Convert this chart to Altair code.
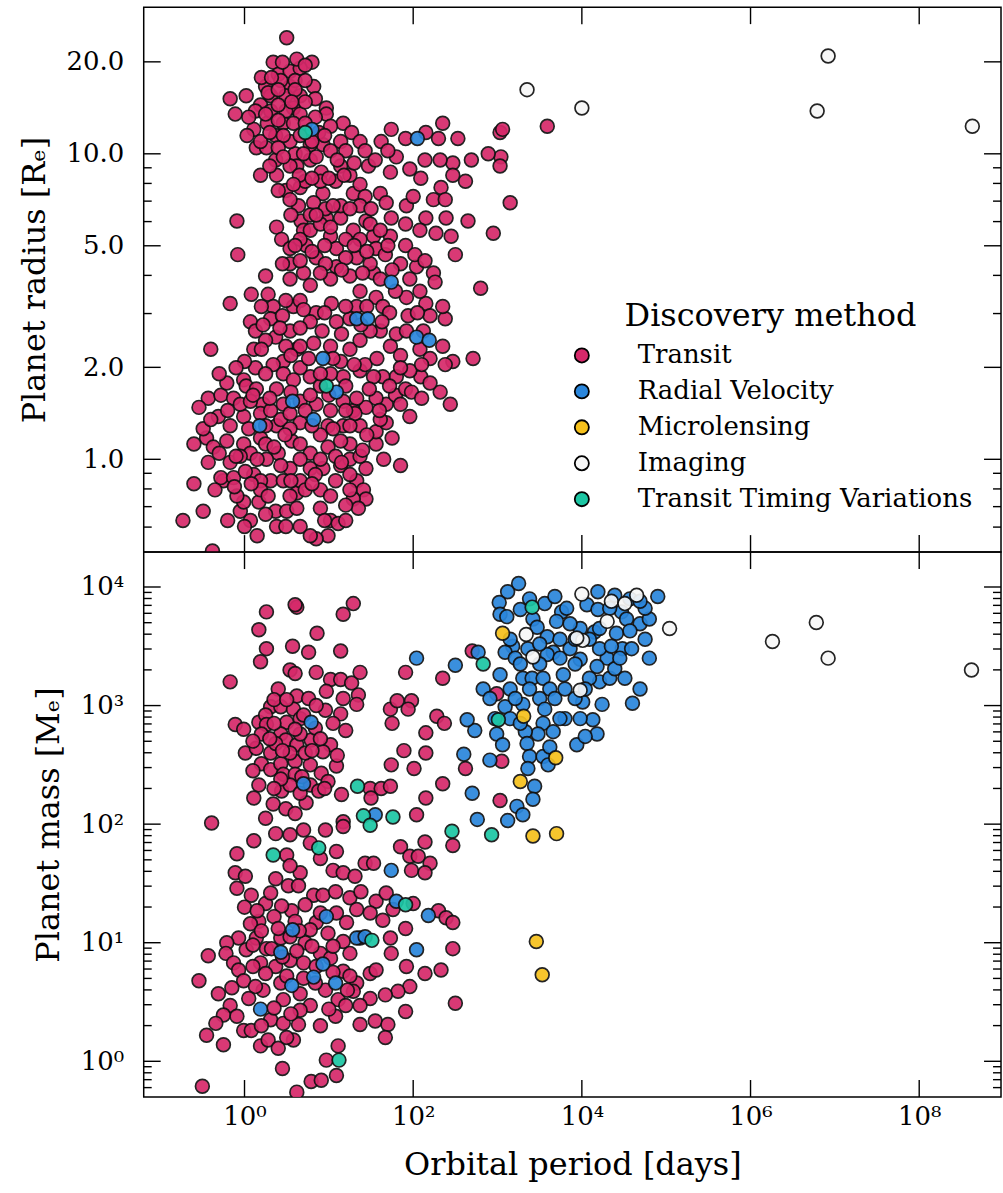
import altair as alt
import pandas as pd

# Discovery methods, legend order and colours
METHODS = ["Transit", "Radial Velocity", "Microlensing", "Imaging", "Transit Timing Variations"]
COLORS = ["#d6296a", "#2a86dc", "#f6c11c", "#f7f7f7", "#1cc6a3"]

# ---------------------------------------------------------------
# Values, stored as (log10 period [d], log10 radius [R_E])
# ---------------------------------------------------------------
top_transit = [
    (0.50, 1.38), (0.34, 1.30), (0.80, 1.30), (0.40, 1.26), (0.54, 1.27), (0.66, 1.28), (0.25, 1.22), (0.54, 1.22), (0.82, 1.22), (-0.17, 1.18),
    (0.02, 1.19), (-0.11, 1.13), (0.19, 1.16), (0.58, 1.15), (0.97, 1.15), (0.97, 1.13), (0.27, 1.10), (0.11, 1.08), (0.46, 1.10), (1.17, 1.10),
    (1.27, 1.07), (0.14, 1.02), (0.26, 1.02), (0.60, 1.00), (0.93, 1.03), (1.14, 1.04), (1.37, 1.04), (1.62, 1.04), (1.74, 1.08), (1.91, 1.05),
    (2.15, 1.07), (2.30, 1.05), (2.35, 1.10), (2.53, 1.05), (3.03, 1.07), (3.04, 0.99), (2.89, 1.00), (2.69, 0.98), (2.47, 0.97), (2.32, 0.98),
    (2.14, 0.98), (1.96, 0.95), (1.73, 0.94), (1.80, 0.99), (1.70, 1.01), (1.47, 0.96), (1.14, 0.96), (0.91, 0.94), (0.62, 0.96), (0.38, 0.93),
    (0.19, 0.93), (0.49, 0.88), (0.66, 0.89), (0.93, 0.87), (1.29, 0.87), (1.61, 0.87), (1.37, 0.90), (2.09, 0.92), (2.33, 0.89), (2.47, 0.93),
    (2.62, 0.91), (3.03, 0.96), (3.15, 0.84), (2.24, 0.85), (2.38, 0.85), (1.92, 0.83), (2.00, 0.86), (1.68, 0.84), (1.43, 0.86), (0.82, 0.84),
    (0.64, 0.83), (2.95, 0.74), (2.65, 0.78), (2.39, 0.79), (2.15, 0.79), (2.27, 0.74), (2.45, 0.73), (2.50, 0.67), (1.74, 0.79), (1.73, 0.73),
    (1.53, 0.73), (1.44, 0.78), (1.29, 0.75), (1.14, 0.79), (0.97, 0.79), (0.67, 0.78), (0.70, 0.75), (0.38, 0.76), (0.44, 0.72), (-0.09, 0.78),
    (-0.08, 0.67), (0.54, 0.69), (0.73, 0.70), (0.85, 0.66), (1.02, 0.73), (1.09, 0.69), (1.33, 0.66), (1.56, 0.69), (1.85, 0.64), (2.04, 0.63),
    (2.24, 0.61), (0.25, 0.60), (0.54, 0.64), (0.70, 0.61), (1.09, 0.63), (1.53, 0.61),
    (2.80, 0.56), (2.26, 0.58), (-0.17, 0.51), (0.08, 0.54), (0.28, 0.54), (0.07, 0.45), (0.34, 0.50), (0.58, 0.50), (0.85, 0.48), (1.03, 0.51),
    (1.33, 0.50), (1.56, 0.53), (1.92, 0.53), (2.15, 0.51), (2.38, 0.46), (2.35, 0.50), (2.20, 0.47), (1.94, 0.47), (1.64, 0.50), (1.09, 0.45),
    (0.78, 0.45), (0.54, 0.42), (0.31, 0.46), (0.37, 0.40), (1.61, 0.42), (1.80, 0.41), (2.35, 0.37), (2.71, 0.33), (2.47, 0.32), (2.38, 0.31),
    (2.09, 0.27), (1.96, 0.29), (1.80, 0.27), (1.64, 0.27), (1.53, 0.27), (1.37, 0.29), (1.17, 0.27), (0.82, 0.38), (0.62, 0.36), (0.46, 0.32),
    (0.34, 0.31), (0.11, 0.36), (-0.40, 0.36), (0.13, 0.30), (0.46, 0.28), (0.78, 0.27), (0.66, 0.30), (2.32, 0.22), (2.44, 0.18), (1.96, 0.14),
    (1.68, 0.18), (1.56, 0.20), (1.44, 0.17), (1.37, 0.11), (1.56, 0.05), (1.44, -0.03), (1.33, -0.07), (1.41, -0.10), (1.44, -0.13), (1.29, -0.13),
    (1.35, -0.16), (1.85, -0.02), (1.14, -0.02), (1.08, -0.07), (0.90, -0.10), (0.90, -0.16), (1.02, -0.20), (1.11, -0.21), (0.99, -0.25), (0.85, -0.26),
    (0.66, -0.22), (0.38, -0.22), (0.37, -0.17), (0.50, -0.17), (0.62, -0.11), (0.31, -0.07), (0.17, -0.14), (-0.05, -0.17), (-0.01, -0.14), (-0.09, -0.12),
    (-0.25, -0.07), (-0.28, -0.06), (-0.13, -0.06), (-0.43, -0.01), (-0.49, -0.17), (-0.73, -0.20), (-0.38, -0.30), (0.11, -0.05), (0.40, 0.02), (0.56, 0.06),
    (0.78, 0.02), (0.99, 0.04), (1.25, 0.05), (1.56, 0.09), (1.68, 0.12), (1.17, 0.11), (0.99, 0.11), (0.38, 0.11), (0.66, 0.12), (-0.01, 0.14),
    (-0.17, 0.11), (-0.31, 0.14), (-0.45, 0.07), (-0.49, 0.10), (-0.43, 0.20), (-0.54, 0.17), (-0.28, 0.21), (-0.21, 0.25), (-0.01, 0.26), (-0.13, 0.20),
    (0.02, 0.24), (0.14, 0.23), (0.22, 0.18), (0.38, 0.23), (0.46, 0.18), (0.85, 0.18), (1.17, 0.19), (1.29, 0.16), (-0.37, 0.04), (-0.21, 0.06),
    (-0.01, 0.05), (0.19, 0.07), (-0.17, -0.01), (0.07, 0.02), (0.26, 0.00), (0.54, -0.03), (0.78, -0.03), (0.93, -0.03), (1.25, 0.00), (0.19, -0.07),
    (0.46, -0.07), (0.66, -0.07),
    (0.43, 0.13), (0.54, 0.15), (0.66, 0.19), (0.90, 0.24), (1.02, 0.28), (1.14, 0.32), (1.25, 0.36), (1.37, 0.39), (1.49, 0.42), (1.73, 0.37),
    (1.85, 0.34), (1.25, 0.46), (1.02, 0.37), (0.66, 0.37), (0.49, 0.37), (0.25, 0.39), (0.13, 0.42), (-0.05, 0.18), (0.07, 0.19), (0.19, 0.15),
    (0.31, 0.16), (0.54, 0.10), (0.90, 0.08), (1.14, 0.06), (1.37, 0.01), (1.61, 0.13), (1.79, 0.21), (1.91, 0.23), (2.08, 0.36), (2.20, 0.33),
    (1.43, 0.31), (0.78, 0.21), (0.66, 0.00), (0.43, -0.02), (0.25, 0.05), (0.01, -0.04), (-0.05, 0.01), (1.31, 0.15), (1.20, 0.16), (1.02, 0.16),
    (1.08, 0.01), (1.25, -0.05), (0.84, -0.05), (0.72, -0.10), (0.54, -0.12), (0.49, -0.22), (0.78, -0.25), (1.20, -0.20), (0.19, -0.10), (0.07, -0.20),
    (0.43, 1.24), (0.60, 1.24), (0.72, 1.24), (0.31, 1.19), (0.49, 1.19), (0.66, 1.19), (0.84, 1.18), (0.13, 1.14), (0.31, 1.14), (0.49, 1.14),
    (0.66, 1.13), (0.84, 1.12), (1.02, 1.09), (0.19, 1.04), (0.37, 1.06), (0.54, 1.04), (0.78, 1.03), (1.02, 1.01), (1.20, 1.01), (0.37, 0.98),
    (0.54, 0.96), (0.78, 0.98), (0.90, 0.91), (0.72, 0.91), (1.08, 0.91), (1.25, 0.93), (1.43, 1.01), (1.55, 0.98), (1.37, 0.83), (1.14, 0.83),
    (0.96, 0.82), (0.78, 0.80), (0.54, 0.85),
    (0.66, 0.72), (0.78, 0.75), (0.90, 0.77), (1.02, 0.76), (1.20, 0.72), (1.37, 0.72), (1.49, 0.77), (1.61, 0.75), (1.20, 0.66), (0.96, 0.64),
    (0.66, 0.65), (0.54, 0.59), (0.78, 0.57), (1.02, 0.59), (1.25, 0.60), (1.37, 0.55), (1.61, 0.59), (1.79, 0.55), (1.96, 0.59), (2.08, 0.55),
    (0.66, 0.52), (0.49, 0.52), (1.49, 0.64), (1.67, 0.67), (1.91, 0.70), (2.02, 0.67), (2.14, 0.65), (2.08, 0.75), (1.91, 0.77),
    (3.59, 1.09), (3.06, 1.08),
    # denser parts of the hot-Jupiter clump
    (0.20, 1.25), (0.32, 1.25), (0.45, 1.30), (0.62, 1.31), (0.72, 1.29), (0.28, 1.20), (0.40, 1.21), (0.60, 1.21), (0.72, 1.17), (0.40, 1.16),
    (0.56, 1.17), (0.25, 1.13), (0.40, 1.11), (0.58, 1.10), (0.72, 1.10), (0.88, 1.07), (0.30, 1.07), (0.46, 1.06), (0.66, 1.06), (0.80, 1.04),
    (0.95, 1.06), (0.05, 1.12), (0.03, 1.06), (0.40, 1.02), (0.70, 1.00), (0.85, 0.99), (1.10, 0.98), (0.46, 0.99), (0.30, 0.96), (0.65, 0.93),
    (0.80, 0.92), (1.00, 0.92), (1.18, 0.93), (1.30, 0.97), (0.58, 0.90), (0.40, 0.88),
    (0.55, 0.80), (0.85, 0.80), (1.05, 0.83), (1.25, 0.82), (1.50, 0.82), (1.30, 0.70), (1.45, 0.68), (0.80, 0.68), (0.60, 0.70), (0.95, 0.70),
    (1.70, 0.70), (1.15, 0.62), (0.90, 0.61), (0.45, 0.64), (1.40, 0.61), (1.75, 0.62),
    # denser parts of the small-planet clump
    (0.20, 0.50), (0.45, 0.47), (0.70, 0.49), (0.95, 0.48), (1.20, 0.50), (1.45, 0.50), (1.72, 0.48), (2.05, 0.48), (0.22, 0.44), (0.42, 0.43),
    (0.66, 0.43), (0.92, 0.42), (1.15, 0.41), (1.38, 0.44), (1.63, 0.45), (1.92, 0.42), (2.12, 0.42),
    (0.20, 0.36), (0.55, 0.34), (0.76, 0.33), (1.05, 0.33), (1.30, 0.31), (1.57, 0.33), (1.85, 0.30), (2.10, 0.31), (0.00, 0.32), (0.25, 0.28),
    (0.58, 0.26), (0.90, 0.28), (1.20, 0.24), (1.48, 0.23), (1.72, 0.24), (1.98, 0.22), (2.20, 0.25),
    (-0.30, 0.28), (-0.10, 0.30), (0.10, 0.21), (0.30, 0.20), (0.55, 0.22), (0.72, 0.16), (1.00, 0.21), (1.33, 0.20), (1.60, 0.16), (1.85, 0.18),
    (2.10, 0.20), (-0.40, 0.13), (-0.20, 0.16), (0.05, 0.10), (0.25, 0.11), (0.48, 0.08), (0.80, 0.11), (1.05, 0.10), (1.25, 0.11), (1.45, 0.08),
    (1.75, 0.07), (-0.60, 0.05), (-0.30, 0.02), (-0.10, 0.01), (0.15, 0.00), (0.35, 0.04), (0.66, 0.05), (0.90, 0.00), (1.15, -0.01), (1.40, 0.03),
    (1.65, 0.00), (-0.60, -0.08), (-0.35, -0.10), (-0.12, -0.09), (0.08, -0.08), (0.28, -0.12), (0.55, -0.07), (0.80, -0.08), (1.02, -0.12), (1.25, -0.10),
    (-0.20, -0.20), (0.00, -0.22), (0.25, -0.18), (0.62, -0.16), (0.95, -0.20), (1.20, -0.15), (0.15, -0.25),
]
top_rv = [
    (0.80, 1.08), (2.05, 1.05), (1.74, 0.58), (1.33, 0.46), (1.46, 0.46), (2.04, 0.40), (2.19, 0.39), (0.93, 0.33), (1.09, 0.22), (0.57, 0.19),
    (0.82, 0.13), (0.18, 0.11),
]
top_micro = []
top_imaging = [(3.35, 1.21), (4.00, 1.15), (6.92, 1.32), (6.79, 1.14), (8.63, 1.09)]
top_ttv = [(0.72, 1.07), (0.97, 0.24)]

# ---------------------------------------------------------------
# (log10 period [d], log10 mass [M_E])
# ---------------------------------------------------------------
bot_transit = [
    (0.26, 3.79), (0.62, 3.83), (0.60, 3.85), (1.29, 3.86), (1.17, 3.77), (0.17, 3.64), (0.86, 3.61), (0.26, 3.48), (0.57, 3.50), (0.76, 3.45),
    (1.14, 3.46), (0.19, 3.37), (-0.17, 3.20), (0.54, 3.30), (0.60, 3.27), (0.85, 3.28), (1.02, 3.22), (1.14, 3.22), (1.27, 3.19), (1.37, 3.28),
    (0.40, 3.14), (0.62, 3.08), (0.76, 3.06), (0.97, 3.12), (1.17, 3.06), (1.35, 3.09), (1.33, 3.01), (1.91, 3.28), (2.35, 3.23), (0.31, 2.99),
    (0.43, 2.99), (0.58, 2.97), (0.96, 2.96), (1.14, 2.93), (1.20, 2.79), (1.73, 2.97), (1.81, 3.04), (1.98, 3.04), (1.94, 2.97), (1.75, 2.85),
    (2.28, 2.91), (2.37, 2.85), (2.15, 2.77), (-0.11, 2.84), (-0.01, 2.80), (0.17, 2.86), (0.25, 2.92), (0.26, 2.84), (0.50, 2.86), (0.43, 2.76),
    (0.20, 2.76), (0.79, 2.71), (1.02, 2.67), (0.49, 2.71), (0.01, 2.60), (0.14, 2.64), (0.31, 2.60), (0.62, 2.67), (0.93, 2.61), (1.89, 2.62),
    (2.15, 2.60), (1.74, 2.50), (2.01, 2.47), (2.62, 2.47), (0.20, 2.51), (0.31, 2.46), (0.43, 2.51), (0.60, 2.53), (0.78, 2.50), (0.91, 2.43),
    (1.09, 2.49), (0.46, 2.42), (0.60, 2.42), (0.17, 2.33), (0.11, 2.22), (0.34, 2.17), (0.44, 2.28), (0.54, 2.33), (0.78, 2.33), (0.88, 2.28),
    (0.99, 2.36), (0.49, 2.13), (0.60, 2.09), (0.73, 2.18), (1.49, 2.30), (1.62, 2.30), (1.73, 2.32), (1.50, 2.22), (2.04, 2.08), (2.15, 2.22),
    (2.35, 2.34), (-0.39, 2.01), (1.17, 2.02), (0.11, 1.86), (-0.09, 1.75), (-0.11, 1.59), (0.01, 1.56), (-0.09, 1.46), (0.08, 1.40), (0.25, 1.33),
    (0.17, 1.18), (0.54, 1.91), (0.70, 1.95), (0.96, 1.95), (1.17, 1.98), (1.09, 1.77), (0.50, 1.74), (0.66, 1.59), (0.54, 1.65), (1.05, 1.61),
    (1.17, 1.59), (1.31, 1.56), (1.43, 1.67), (1.53, 1.67), (1.85, 1.81), (2.14, 1.85), (2.47, 1.82), (1.96, 1.73), (2.06, 1.73), (2.20, 1.67),
    (1.98, 1.61), (2.14, 1.59), (0.52, 1.48), (0.64, 1.48), (0.82, 1.40), (0.93, 1.40), (1.08, 1.43), (1.25, 1.38), (1.38, 1.43), (1.56, 1.35),
    (1.68, 1.42), (2.00, 1.33), (2.30, 1.27), (2.39, 1.21), (2.47, 1.17), (0.72, 1.32), (0.56, 1.27), (0.44, 1.31), (0.85, 1.17), (1.09, 1.25),
    (1.21, 1.17), (1.33, 1.28), (1.49, 1.25), (1.64, 1.19), (1.76, 1.28), (1.91, 1.12), (1.73, 1.04), (0.43, 1.04), (0.54, 1.05), (0.78, 1.11),
    (0.99, 1.08), (1.17, 1.01), (0.14, 1.04), (0.26, 0.95), (0.02, 0.94), (-0.07, 1.04), (-0.21, 1.00), (-0.22, 0.91), (-0.43, 0.89), (-0.13, 0.83),
    (-0.07, 0.77), (-0.01, 0.68), (0.37, 0.80), (0.54, 0.85), (0.70, 0.83), (1.17, 0.76), (1.33, 0.66), (1.49, 0.74), (1.56, 0.77), (1.74, 0.91),
    (1.92, 0.80), (2.14, 0.74), (2.33, 0.77), (2.47, 0.95), (2.50, 0.49), (1.96, 0.63), (1.82, 0.59), (1.91, 0.42), (1.67, 0.56), (1.49, 0.53),
    (1.37, 0.47), (1.29, 0.59), (1.11, 0.52), (0.96, 0.60), (0.78, 0.47), (0.66, 0.57), (0.46, 0.52), (0.22, 0.60), (0.13, 0.63), (0.05, 0.53),
    (0.31, 0.35), (0.46, 0.32), (0.64, 0.31), (0.90, 0.30), (1.08, 0.38), (1.20, 0.47), (1.37, 0.31), (1.55, 0.34), (1.70, 0.31), (1.67, 0.20),
    (-0.31, 0.57), (-0.17, 0.47), (-0.25, 0.39), (-0.34, 0.32), (-0.09, 0.38), (-0.01, 0.26), (0.08, 0.26), (-0.45, 0.22), (-0.25, 0.14), (0.19, 0.13),
    (0.28, 0.18), (0.40, 0.11), (0.58, 0.18), (0.50, 0.20), (-0.54, 0.68), (1.11, 0.13), (0.97, 0.01), (0.45, -0.06), (0.79, -0.17), (0.91, -0.16),
    (1.09, -0.12), (-0.50, -0.21), (0.62, -0.26), (2.70, 3.46), (2.99, 3.10), (3.05, 2.53), (3.03, 2.20),
    (0.66, 2.89), (0.84, 2.81), (0.66, 2.76), (0.37, 2.68), (0.54, 2.60), (0.72, 2.60), (0.43, 2.38), (0.66, 2.26), (0.25, 2.05), (0.37, 1.92),
    (0.78, 1.84), (0.90, 1.71), (0.37, 1.54), (0.31, 1.42), (0.90, 1.25), (0.72, 1.00), (0.90, 0.91), (0.19, 0.83), (0.07, 1.16), (1.02, 0.87),
    (0.84, 0.66), (0.43, 0.66), (1.25, 0.91), (1.37, 1.04), (0.66, 0.43),
    (0.00, 1.30), (0.15, 1.27), (0.35, 1.22), (0.60, 1.18), (0.20, 1.10), (0.40, 1.12), (0.65, 1.10), (0.10, 0.98), (0.32, 0.95), (0.62, 0.93),
    (0.80, 0.97), (1.05, 0.97), (0.45, 0.88), (0.85, 0.80), (1.05, 0.75), (0.25, 0.74), (0.50, 0.72), (0.70, 0.70), (0.10, 0.80), (1.25, 0.72),
    (0.35, 0.45), (0.55, 0.40), (1.00, 0.44), (0.20, 0.30), (1.22, 0.60), (-0.15, 0.62),
    (0.35, 3.05), (0.50, 3.05), (0.70, 2.92), (0.85, 3.00), (1.05, 2.85), (0.35, 2.85), (0.60, 2.80), (0.90, 2.72), (0.10, 2.70), (0.30, 2.72),
    (0.45, 2.62), (0.80, 2.62), (1.10, 2.58), (0.10, 2.45), (0.35, 2.30), (0.68, 2.40), (0.95, 2.30), (1.15, 2.25),
]
bot_rv = [
    (3.25, 4.03), (3.12, 3.96), (3.02, 3.87), (3.03, 3.77), (3.11, 3.75), (3.27, 3.81), (3.42, 3.73), (3.47, 3.66), (3.59, 3.58), (3.76, 3.79),
    (3.82, 3.82), (3.70, 3.71), (4.19, 3.96), (4.06, 3.85), (4.19, 3.81), (4.47, 3.79), (4.53, 3.73), (4.41, 3.61), (4.15, 3.62), (4.48, 3.48),
    (4.59, 3.48), (4.30, 3.40), (4.18, 3.33), (4.21, 3.20), (3.98, 3.39), (4.01, 3.03), (4.24, 3.01), (4.60, 3.02), (4.13, 2.88), (4.18, 2.76),
    (3.94, 2.67), (4.04, 2.74), (3.78, 3.26), (3.66, 3.45), (3.59, 3.43), (3.36, 3.48), (3.18, 3.50), (3.09, 3.45), (3.03, 3.26), (2.83, 3.14),
    (3.15, 3.14), (3.30, 3.23), (3.41, 3.23), (3.54, 3.23), (3.62, 3.14), (3.50, 3.06), (3.30, 3.01), (3.09, 2.99), (3.56, 2.97), (3.54, 2.85),
    (3.66, 2.78), (3.48, 2.76), (3.33, 2.78), (2.99, 2.76), (3.06, 2.67), (3.35, 2.68), (3.38, 2.57), (3.54, 2.57), (3.60, 2.50), (3.36, 2.47),
    (3.44, 2.32), (3.42, 2.21), (3.23, 2.15), (3.30, 2.08), (3.12, 2.03), (2.76, 2.04), (2.70, 2.26), (2.91, 2.54), (2.60, 2.59), (2.73, 2.79),
    (2.64, 2.88), (2.50, 3.34), (2.77, 3.45), (2.04, 3.40), (4.90, 3.92), (0.70, 2.34), (0.79, 2.86), (1.55, 2.08), (1.74, 1.61), (1.80, 1.35),
    (2.18, 1.23), (2.04, 0.94), (1.33, 1.04), (1.43, 1.05), (0.97, 1.22), (0.57, 1.11), (0.43, 0.92), (0.93, 0.82), (0.82, 0.71), (1.08, 0.66),
    (0.56, 0.64), (0.19, 0.44),
    (3.15, 3.56), (3.21, 3.40), (3.27, 3.35), (3.50, 3.35), (3.74, 3.40), (3.86, 3.48), (3.92, 3.35), (4.09, 3.23), (4.33, 3.23), (4.39, 3.31),
    (4.45, 3.40), (4.21, 3.48), (4.09, 3.56), (3.98, 3.65), (3.86, 3.69), (3.74, 3.56), (3.50, 3.52), (3.38, 3.14), (3.21, 3.06), (3.68, 3.06),
    (3.80, 3.14), (3.92, 3.06), (3.80, 2.89), (3.98, 2.89), (4.51, 3.23), (4.69, 3.14), (4.80, 3.40), (4.75, 3.56), (4.69, 3.69), (4.80, 3.73),
    (4.75, 3.82), (4.33, 3.82), (4.21, 3.65), (4.35, 3.50), (3.74, 2.89), (3.62, 2.65), (3.15, 2.89), (3.27, 2.85), (2.91, 3.06), (2.97, 2.89),
    (3.38, 3.90), (3.56, 3.86), (3.68, 3.92), (4.39, 3.93), (4.57, 3.90), (4.69, 3.88), (4.57, 3.63), (3.92, 3.56), (4.04, 3.14),
]
bot_micro = [(3.06, 3.61), (3.31, 2.91), (3.69, 2.56), (3.27, 2.36), (3.42, 1.90), (3.70, 1.92), (3.46, 1.01), (3.53, 0.73)]
bot_imaging = [
    (3.34, 3.60), (4.00, 3.94), (4.35, 3.88), (4.51, 3.86), (4.65, 3.93), (5.04, 3.65), (4.30, 3.71), (4.01, 3.55), (3.94, 3.57), (3.42, 3.41),
    (3.98, 3.13), (6.26, 3.54), (6.78, 3.70), (6.92, 3.40), (8.62, 3.30),
]
bot_ttv = [
    (3.41, 3.83), (2.83, 3.35), (3.01, 2.88), (1.34, 2.32), (1.41, 2.07), (1.49, 1.99), (1.76, 2.06), (2.46, 1.94), (2.93, 1.91), (0.34, 1.74),
    (0.88, 1.80), (1.91, 1.32), (1.51, 1.02), (1.12, 0.01),
]

# Axis ticks / labels
X_MAJOR = [1, 1e2, 1e4, 1e6, 1e8]
R_MAJOR = [1, 2, 5, 10, 20]
R_MINOR = [0.6, 0.7, 0.8, 0.9, 3, 4, 6, 7, 8, 9]
M_MAJOR = [1, 10, 100, 1000, 10000]
M_MINOR = [0.6, 0.7, 0.8, 0.9] + [k * d for d in (1, 10, 100, 1000) for k in (2, 3, 4, 5, 6, 7, 8, 9)]

X_DOMAIN = [0.0638, 9.33e8]
R_DOMAIN = [0.497, 30.2]
M_DOMAIN = [0.5, 19700]

W, H = 859, 546
FONT = "DejaVu Serif"
MAJ, MIN = 17, 8


def build(groups, yname):
    rows = []
    for m, pts in zip(METHODS, groups):
        for lp, ly in pts:
            rows.append({"method": m, "period": 10 ** lp, yname: 10 ** ly})
    return pd.DataFrame(rows)


top_df = build([top_transit, top_rv, top_micro, top_imaging, top_ttv], "radius")
bot_df = build([bot_transit, bot_rv, bot_micro, bot_imaging, bot_ttv], "mass")

xscale = alt.Scale(type="log", domain=X_DOMAIN, nice=False)
rscale = alt.Scale(type="log", domain=R_DOMAIN, nice=False)
mscale = alt.Scale(type="log", domain=M_DOMAIN, nice=False)
fscale = alt.Scale(domain=METHODS, range=COLORS)

SUP = "['⁰','¹','²','³','⁴','⁵','⁶','⁷','⁸','⁹'][round(log(datum.value)/LN10)]"

r_axis = alt.Axis(values=R_MAJOR, format=".1f", ticks=False, domain=False, grid=False,
                  title="Planet radius [Rₑ]", labelFontSize=26, labelPadding=20,
                  titleFontSize=32, titlePadding=15)
m_axis = alt.Axis(values=M_MAJOR, labelExpr="'10' + " + SUP, ticks=False, domain=False, grid=False,
                  title="Planet mass [Mₑ]", labelFontSize=26, labelPadding=20,
                  titleFontSize=32, titlePadding=15)
x_axis = alt.Axis(values=X_MAJOR, labelExpr="'10' + " + SUP, ticks=False, domain=False, grid=False,
                  title="Orbital period [days]", labelFontSize=26, labelPadding=7,
                  titleFontSize=32, titlePadding=20)


def ticks(yname, yscale, yaxis, xaxis, major, minor):
    layers = []
    for vals, L in ((major, MAJ), (minor, MIN)):
        d = pd.DataFrame({yname: vals})
        for x0, x1 in ((0, L), (W - L, W)):
            layers.append(
                alt.Chart(d).mark_rule(color="black", strokeWidth=1.4).encode(
                    y=alt.Y(f"{yname}:Q", scale=yscale, axis=yaxis),
                    x=alt.value(x0), x2=alt.value(x1),
                )
            )
    dx = pd.DataFrame({"period": X_MAJOR})
    for y0, y1 in ((0, MAJ), (H - MAJ, H)):
        layers.append(
            alt.Chart(dx).mark_rule(color="black", strokeWidth=1.4).encode(
                x=alt.X("period:Q", scale=xscale, axis=xaxis),
                y=alt.value(y0), y2=alt.value(y1),
            )
        )
    return layers


point_style = dict(filled=True, size=190, stroke="#111111", strokeWidth=1.7, opacity=0.92, clip=True)

top_points = alt.Chart(top_df).mark_point(**point_style).encode(
    x=alt.X("period:Q", scale=xscale, axis=None),
    y=alt.Y("radius:Q", scale=rscale, axis=r_axis),
    fill=alt.Fill("method:N", scale=fscale,
                  legend=alt.Legend(title="Discovery method", orient="none", legendX=426, legendY=294,
                                    titleFontSize=32, titleFontWeight="normal", titleAnchor="middle",
                                    titlePadding=10, titleLimit=0, labelLimit=0, labelFontSize=26,
                                    symbolSize=200, symbolType="circle",
                                    symbolStrokeColor="black", symbolStrokeWidth=1.8, symbolOpacity=1,
                                    rowPadding=10, labelOffset=43, padding=0)),
)

bot_points = alt.Chart(bot_df).mark_point(**point_style).encode(
    x=alt.X("period:Q", scale=xscale, axis=x_axis),
    y=alt.Y("mass:Q", scale=mscale, axis=m_axis),
    fill=alt.Fill("method:N", scale=fscale, legend=None),
)

top = alt.layer(top_points, *ticks("radius", rscale, r_axis, None, R_MAJOR, R_MINOR)).properties(width=W, height=H)
bottom = alt.layer(bot_points, *ticks("mass", mscale, m_axis, x_axis, M_MAJOR, M_MINOR)).properties(width=W, height=H)

chart = (
    alt.vconcat(top, bottom, spacing=0, bounds="flush")
    .resolve_legend(fill="independent")
    .properties(padding={"left": 17, "top": 4, "right": 0, "bottom": 2})
    .configure(font=FONT)
    .configure_view(stroke="black", strokeWidth=1.5)
    .configure_axis(labelFont=FONT, titleFont=FONT, labelColor="black", titleColor="black",
                    titleFontWeight="normal", grid=False)
    .configure_legend(labelFont=FONT, titleFont=FONT, labelColor="black", titleColor="black")
)

chart.save("out.html", embed_options={"renderer": "svg", "actions": False})
